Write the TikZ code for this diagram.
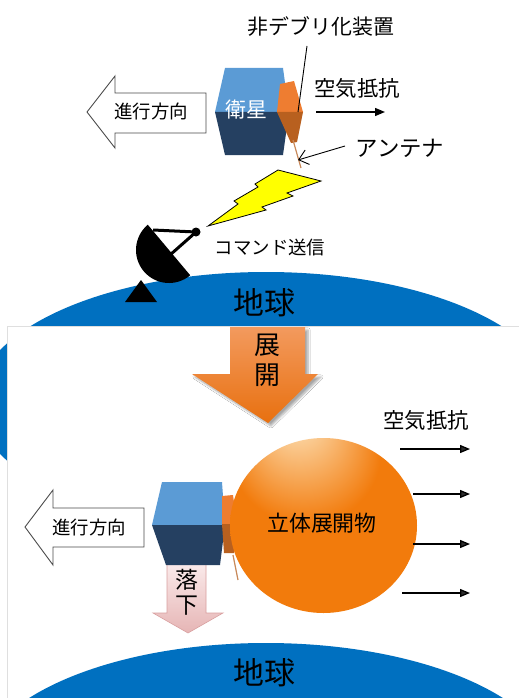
\documentclass[tikz,border=0pt]{standalone}
\usepackage{fontspec}
\setmainfont{Noto Sans CJK JP}
\usetikzlibrary{arrows.meta,shadows.blur}

\definecolor{earth}{HTML}{0070C0}
\definecolor{cubeTop}{HTML}{5B9BD5}
\definecolor{cubeBot}{HTML}{254061}
\definecolor{devTop}{HTML}{EE7D31}
\definecolor{devBot}{HTML}{B8601F}
\definecolor{wire}{HTML}{C8895A}
\definecolor{bolt}{HTML}{FFFF00}
\definecolor{deployTop}{HTML}{F39A5E}
\definecolor{deployBot}{HTML}{E8700F}
\definecolor{fallTop}{HTML}{FBEDED}
\definecolor{fallBot}{HTML}{E6B5B5}
\definecolor{fallEdge}{HTML}{D9A0A0}
\definecolor{sphHi}{HTML}{FFF6DA}
\definecolor{sphMid}{HTML}{F27B0C}
\definecolor{sphEdge}{HTML}{E06800}

\pgfdeclareradialshading{spheregrad}{\pgfpoint{-8bp}{34bp}}{%
  color(0bp)=(sphHi); color(5bp)=(sphHi!70!sphMid); color(20bp)=(sphMid);
  color(44bp)=(sphMid); color(50bp)=(sphEdge)}

\tikzset{
  jtext/.style={inner sep=0pt, anchor=center},
  blockarrow/.style={fill=white, draw=black!70, line width=0.9bp},
  dragarrow/.style={line width=1.3bp, -{Triangle[length=10bp,width=8bp]}},
  leader/.style={line width=0.9bp},
}

\begin{document}
\begin{tikzpicture}[x=1bp,y=-1bp]
\useasboundingbox (0,0) rectangle (519,698);
\clip (0,0) rectangle (519,698);

% ---------- upper scene: before deployment ----------
\fill[earth] (266,402) ellipse [x radius=290, y radius=130];
\node[jtext, font=\fontsize{31}{31}\selectfont] (earthA) at (264,303) {地球};

% ground station dish
\fill[black] (141,280) -- (157,302) -- (125,302) -- cycle;
\fill[black] (169,250) ++(230:33) arc[start angle=230, end angle=50, radius=33] -- cycle;
\coordinate (feed) at (196,232);
\draw[line width=3bp] (153,230) -- (feed);
\draw[line width=3bp] (170,255) -- (feed);
\fill[black] (feed) circle (4.5);
\node[jtext, font=\fontsize{18.5}{18.5}\selectfont] (cmd) at (270,247) {コマンド送信};

% command signal
\filldraw[fill=bolt, draw=black, line width=0.8bp]
  (278,170) -- (321,181) -- (287,193) -- (293,196) -- (262,207) -- (266,210)
  -- (208,226) -- (238,204) -- (234,201) -- (258,187) -- (255,184) -- cycle;

% travel direction
\path[blockarrow] (87,112) -- (115,76) -- (115,93) -- (206,93) -- (206,133)
  -- (115,133) -- (115,148) -- cycle;
\node[jtext, font=\fontsize{18.5}{18.5}\selectfont] (dirA) at (151,112) {進行方向};

% satellite
\fill[cubeTop] (225,68) -- (283,68) -- (289,112) -- (215,112) -- cycle;
\fill[cubeBot] (215,112) -- (289,112) -- (283,155) -- (225,155) -- cycle;
\node[jtext, text=white, font=\fontsize{21}{21}\selectfont] (sat) at (246,110) {衛星};

% de-orbit device and antenna
\fill[devTop] (280,84) -- (294,81) -- (303,112) -- (277,112) -- cycle;
\fill[devBot] (277,112) -- (303,112) -- (297,142) -- (291,143) -- cycle;
\coordinate (devA) at (298,112);
\coordinate (antA) at (298,160);
\draw[wire, line width=1.2bp] (293,140) -- (301,168);

\node[jtext, font=\fontsize{21}{21}\selectfont] (devlabel) at (321,26) {非デブリ化装置};
\draw[leader] (307,46) -- (devA);

\node[jtext, font=\fontsize{21.5}{21.5}\selectfont] (dragA) at (357,88) {空気抵抗};
\coordinate (dragAs) at (316,112);
\coordinate (dragAe) at (385,112);
\draw[dragarrow] (dragAs) -- (dragAe);

\node[jtext, font=\fontsize{22.5}{22.5}\selectfont] (antlabel) at (400,148) {アンテナ};
\draw[leader, -{Straight Barb[length=9bp,width=15bp]}] (345,146) -- (antA);

% ---------- lower scene: after deployment ----------
\filldraw[fill=white, draw=gray!25, line width=0.8bp] (7,326) rectangle (540,720);

\fill[earth] (266,773) ellipse [x radius=290, y radius=130];
\node[jtext, font=\fontsize{31}{31}\selectfont] (earthB) at (264,673) {地球};

% deploy arrow
\shade[top color=deployTop, bottom color=deployBot,
  blur shadow={shadow xshift=3bp, shadow yshift=-3bp, shadow opacity=35, shadow blur steps=6}]
  (230,327) -- (305,327) -- (305,374) -- (318,374) -- (268,423) -- (192,374)
  -- (230,374) -- cycle;
\node[jtext, align=center, font=\fontsize{26}{30}\selectfont] (deploy) at (267,360) {展\\開};

% travel direction
\path[blockarrow] (25,527) -- (53,490) -- (53,508) -- (144,508) -- (144,547)
  -- (53,547) -- (53,565) -- cycle;
\node[jtext, font=\fontsize{18.5}{18.5}\selectfont] (dirB) at (89,527) {進行方向};

% falling
\shade[top color=fallTop, bottom color=fallBot, draw=fallEdge, line width=0.6bp]
  (167,560) -- (206,560) -- (206,613) -- (223,613) -- (188,633) -- (153,613)
  -- (167,613) -- cycle;
\node[jtext, align=center, font=\fontsize{23}{25}\selectfont] (fall) at (187,592) {落\\下};

% satellite with device
\fill[cubeTop] (162,482) -- (222,482) -- (225,525) -- (152,525) -- cycle;
\fill[cubeBot] (152,525) -- (225,525) -- (220,565) -- (166,565) -- cycle;
\fill[devTop] (222,496) -- (233,495) -- (237,524) -- (222,524) -- cycle;
\fill[devBot] (222,524) -- (237,524) -- (234,553) -- (224,553) -- cycle;

% inflated structure
\shade[shading=spheregrad] (323.5,525.5) ellipse [x radius=93.5, y radius=87.5];
\node[jtext, font=\fontsize{22}{22}\selectfont] (balloon) at (322,523) {立体展開物};
\draw[wire, line width=1.2bp] (233,555) -- (238,580);

% air drag
\node[jtext, font=\fontsize{21.5}{21.5}\selectfont] (dragB) at (426,420) {空気抵抗};
\foreach \yy/\xs in {449/400, 494/413, 544/413, 593/402}{
  \coordinate (ds) at (\xs,\yy);
  \coordinate (de) at (470,\yy);
  \draw[dragarrow] (ds) -- (de);
}
\end{tikzpicture}
\end{document}
